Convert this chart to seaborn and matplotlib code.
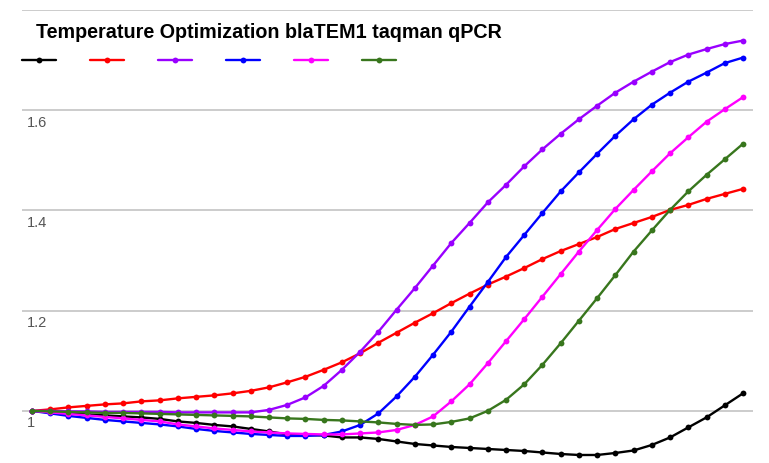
import numpy as np
import pandas as pd
import matplotlib
matplotlib.use("Agg")
import matplotlib.pyplot as plt
import matplotlib.transforms as mtransforms
import seaborn as sns

cycles = list(range(1, 41))
series_names = ["s1", "s2", "s3", "s4", "s5", "s6"]
series_colors = ["#000000", "#ff0000", "#9900ff", "#0000ff", "#ff00ff", "#38761d"]

black = [1.000, 0.997, 0.995, 0.993, 0.991, 0.989, 0.987, 0.984, 0.979, 0.976,
         0.972, 0.969, 0.964, 0.959, 0.953, 0.952, 0.951, 0.947, 0.947, 0.944,
         0.939, 0.934, 0.931, 0.928, 0.926, 0.924, 0.922, 0.920, 0.917, 0.914,
         0.912, 0.912, 0.916, 0.921, 0.932, 0.947, 0.967, 0.987, 1.011, 1.035]
red = [1.000, 1.003, 1.007, 1.010, 1.013, 1.015, 1.019, 1.021, 1.025, 1.028,
       1.031, 1.035, 1.040, 1.047, 1.057, 1.068, 1.082, 1.097, 1.115, 1.136,
       1.156, 1.176, 1.195, 1.215, 1.234, 1.252, 1.268, 1.285, 1.303, 1.319,
       1.333, 1.347, 1.363, 1.375, 1.387, 1.401, 1.411, 1.423, 1.433, 1.443]
purple = [1.000, 1.000, 0.999, 0.999, 0.998, 0.998, 0.998, 0.998, 0.997, 0.997,
          0.997, 0.997, 0.997, 1.002, 1.012, 1.027, 1.050, 1.082, 1.118, 1.158,
          1.202, 1.245, 1.290, 1.335, 1.375, 1.416, 1.451, 1.488, 1.522, 1.553,
          1.582, 1.609, 1.635, 1.657, 1.677, 1.696, 1.711, 1.722, 1.732, 1.739]
blue = [1.000, 0.995, 0.990, 0.986, 0.982, 0.979, 0.976, 0.973, 0.969, 0.964,
        0.960, 0.957, 0.954, 0.952, 0.950, 0.950, 0.952, 0.959, 0.972, 0.995,
        1.029, 1.068, 1.112, 1.158, 1.208, 1.257, 1.307, 1.351, 1.395, 1.438,
        1.476, 1.513, 1.549, 1.582, 1.611, 1.635, 1.657, 1.675, 1.694, 1.705]
magenta = [1.000, 0.997, 0.994, 0.991, 0.988, 0.985, 0.982, 0.979, 0.973, 0.969,
           0.965, 0.962, 0.959, 0.957, 0.955, 0.954, 0.953, 0.953, 0.955, 0.957,
           0.962, 0.972, 0.989, 1.019, 1.053, 1.095, 1.139, 1.183, 1.228, 1.273,
           1.318, 1.361, 1.403, 1.441, 1.478, 1.514, 1.546, 1.577, 1.602, 1.626]
green = [1.000, 0.999, 0.998, 0.997, 0.996, 0.996, 0.995, 0.994, 0.993, 0.992,
         0.991, 0.990, 0.989, 0.987, 0.985, 0.984, 0.982, 0.981, 0.979, 0.977,
         0.974, 0.972, 0.973, 0.978, 0.985, 1.000, 1.022, 1.053, 1.092, 1.135,
         1.180, 1.225, 1.271, 1.318, 1.360, 1.401, 1.438, 1.471, 1.502, 1.533]

title = "Temperature Optimization blaTEM1 taqman qPCR"
grid_values = [1.0, 1.2, 1.4, 1.6, 1.8]
tick_labels = ["1", "1.2", "1.4", "1.6"]

all_series = [black, red, purple, blue, magenta, green]
df = pd.DataFrame({
    "cycle": cycles * len(series_names),
    "value": [v for s in all_series for v in s],
    "series": [n for n in series_names for _ in cycles],
})

sns.set_theme(style="white")
plt.rcParams["font.family"] = ["Liberation Sans", "DejaVu Sans"]

W, H = 769, 463
fig = plt.figure(figsize=(W / 100, H / 100), dpi=100)
# axes spans x 22..753 px, y 10..461 px
ax = fig.add_axes([22 / W, 1 - 461 / H, (753 - 22) / W, (461 - 10) / H])

for g in grid_values:
    ax.axhline(g, color="#cccccc", lw=1.4, zorder=0)

sns.lineplot(data=df, x="cycle", y="value", hue="series", hue_order=series_names,
             palette=series_colors, marker="o", markersize=4.2, markeredgewidth=0,
             linewidth=1.7, legend=False, ax=ax, sort=False)

ax.set_xlim(0.45, 40.55)
ax.set_ylim(0.9, 1.8)
ax.set_xticks([])
ax.set_yticks([])
ax.set_xlabel("")
ax.set_ylabel("")
for sp in ax.spines.values():
    sp.set_visible(False)

trans = mtransforms.blended_transform_factory(ax.transAxes, ax.transData)
offset = mtransforms.ScaledTranslation(0, -12.5 / 100, fig.dpi_scale_trans)
for val, lab in zip(grid_values, tick_labels):
    ax.text(4.5 / (753 - 22), val, lab, transform=trans + offset, ha="left", va="center",
            fontsize=10.5, color="#555555")

fig.text(36 / W, 1 - 33 / H, title, ha="left", va="center", fontsize=14.2,
         fontweight="bold", color="#000000")

handles = ax.get_lines()[len(grid_values):]
leg = fig.legend(handles, [""] * len(handles), loc="center left",
                 bbox_to_anchor=(22 / W, 1 - 61 / H), ncol=6, frameon=False,
                 numpoints=1, handlelength=2.45, handletextpad=0.0,
                 columnspacing=2.45, borderpad=0, borderaxespad=0, fontsize=10)

fig.savefig("out.png", dpi=100)
